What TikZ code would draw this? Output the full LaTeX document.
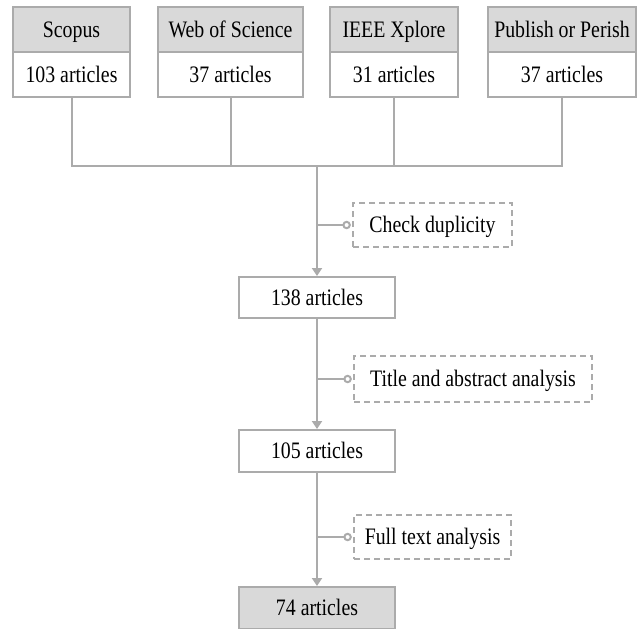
\documentclass[tikz,border=0pt]{standalone}
\usepackage{fontspec}
\setmainfont{Liberation Serif}[FakeStretch=0.84]
\usepackage{tikz}
\usetikzlibrary{arrows.meta,positioning,calc}
\definecolor{edge}{HTML}{ABABAB}
\definecolor{shade}{HTML}{D9D9D9}

\begin{document}
\begin{tikzpicture}[x=0.5pt,y=-0.5pt,line width=1pt,font=\fontsize{11.8}{14}\selectfont,
  box/.style={draw=edge,inner sep=0pt,minimum height=22.5pt,text height=8pt,text depth=0.4pt},
  head/.style={box,fill=shade},
  stage/.style={box,fill=white,minimum width=78pt,minimum height=21pt},
  filter/.style={draw=edge,dashed,dash pattern=on 3pt off 2pt,inner sep=0pt,minimum height=22pt,
    text height=8pt,text depth=0.4pt},
  flow/.style={draw=edge,-{Triangle[length=4pt,width=5pt]}},
  tap/.style={draw=edge,-{Circle[open,length=4.2pt]},shorten >=0.6pt}]
  \useasboundingbox (0,0) rectangle (644,628);
  % Databases and their counts.
  \foreach \id/\cx/\w/\dbname/\hits in {a/71.5/117/Scopus/103,b/230.5/145/Web of Science/37,
      c/394/128/IEEE Xplore/31,d/562/148/Publish or Perish/37} {
    \node[head,minimum width=\w*0.5pt] (db\id) at (\cx,29.5) {\dbname};
    \node[box,fill=white,minimum width=\w*0.5pt] (hits\id) at (\cx,74.5) {\hits\ articles};
  }
  \coordinate (bus) at (317,166);
  \foreach \id in {a,b,c,d}
    \draw[edge] (hits\id.south) |- (bus);
  % Screening steps.
  \node[stage,minimum height=20.5pt] (merged) at (317,297.5) {138 articles};
  \node[stage] (screened) at (317,451) {105 articles};
  \node[stage,fill=shade] (final) at (317,608) {74 articles};
  \node[filter,minimum width=79.5pt] (dup) at (432.5,225) {Check duplicity};
  \node[filter,minimum width=119pt,minimum height=23pt] (abs) at (473,379) {Title and abstract analysis};
  \node[filter,minimum width=78.5pt] (full) at (432.5,537) {Full text analysis};
  \draw[flow] (bus) -- (merged);
  \draw[flow] (merged) -- (screened);
  \draw[flow] (screened) -- (final);
  \coordinate (j1) at (317,225);
  \coordinate (j2) at (317,379);
  \coordinate (j3) at (317,537);
  \draw[tap] (j1) -- (dup);
  \draw[tap] (j2) -- (abs);
  \draw[tap] (j3) -- (full);
\end{tikzpicture}
\end{document}
